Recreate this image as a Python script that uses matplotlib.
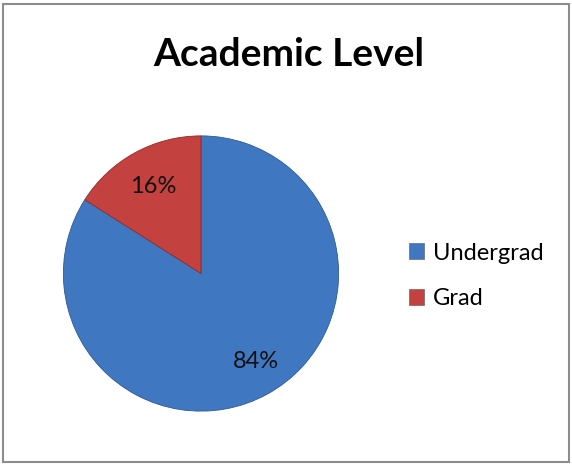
import matplotlib
matplotlib.use("Agg")
import matplotlib.pyplot as plt
from matplotlib.patches import Rectangle

categories = ["Undergrad", "Grad"]
values = [84, 16]
colors = ["#3F78C0", "#C3413E"]
title = "Academic Level"

plt.rcParams['font.family'] = ['Lato', 'DejaVu Sans']

fig = plt.figure(figsize=(5.72, 4.66), dpi=100)
fig.patch.set_facecolor('white')

# border
fig.add_artist(Rectangle((3/572, 4/466), 566/572, 458/466, transform=fig.transFigure,
                         fill=False, edgecolor='#8C8C8C', linewidth=1.5))

cx, cy, r = 201, 273.5, 139
ax = fig.add_axes([(cx - r)/572, (466 - cy - r)/466, 2*r/572, 2*r/466])
wedges, texts, autotexts = ax.pie(values, colors=colors, startangle=90, counterclock=False,
                                  autopct='%d%%', pctdistance=0.72, radius=1,
                                  wedgeprops=dict(edgecolor='#2E5A8F', linewidth=0.6),
                                  textprops=dict(fontsize=17, color='#111111'))
wedges[1].set_edgecolor('#8E2C2A')
x0, y0 = autotexts[0].get_position()
autotexts[0].set_position((x0 + 0.05, y0 - 0.01))
ax.set_xlim(-1.01, 1.01)
ax.set_ylim(-1.01, 1.01)
ax.set_aspect('equal')
ax.axis('off')

fig.text(289/572, 1 - 55/466, title, ha='center', va='center', fontsize=28, fontweight='bold')

handles = [Rectangle((0, 0), 1, 1, facecolor=c, edgecolor='#555555', linewidth=0.4) for c in colors]
leg = fig.legend(handles, categories, loc='center left', bbox_to_anchor=(409/572, 1 - 276/466),
                 frameon=False, fontsize=17, handlelength=0.65, handleheight=0.65,
                 handletextpad=0.35, labelspacing=1.05, borderaxespad=0, borderpad=0)

fig.savefig("out.png", dpi=100)
